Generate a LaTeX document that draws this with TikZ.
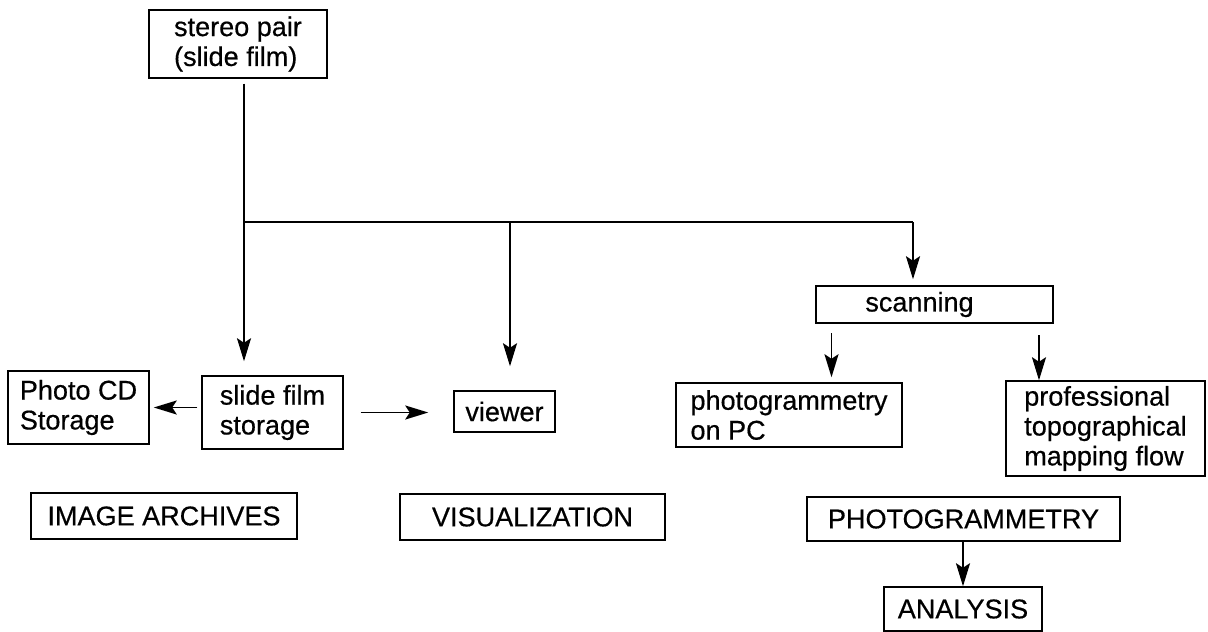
\documentclass[tikz,border=0pt]{standalone}
\usepackage{fontspec}
\setmainfont{Liberation Sans}[FakeBold=0.5]
\usepackage{tikz}
\usetikzlibrary{arrows.meta,positioning}

\begin{document}
\begin{tikzpicture}[
    x=0.02cm, y=-0.02cm,
    font=\fontsize{15.4}{17}\selectfont,
    box/.style={draw, line width=0.85pt, align=left, inner sep=0pt},
    arrow/.style={-{Stealth[length=4.6mm, width=2.8mm, inset=0.9mm]}, line width=1.1pt},
    link/.style={line width=1.1pt}
  ]
    \useasboundingbox (0,0) rectangle (1208,632);
    \node[box, minimum width=3.56cm, minimum height=1.36cm] (pair) at (238,44) {stereo pair\\(slide film)};
    \node[box, minimum width=2.82cm, minimum height=1.46cm] (slide) at (272.5,412.5) {slide film\\storage};
    \node[box, minimum width=2.82cm, minimum height=1.46cm] (cd) at (78.5,407.5) {Photo CD\\Storage};
    \node[box, minimum width=2.02cm, minimum height=0.82cm] (viewer) at (504.5,411.5) {viewer};
    \node[box, minimum width=4.74cm, minimum height=0.74cm] (scan) at (934.5,304.5) {scanning\hspace{0.6cm}};
    \node[box, minimum width=4.52cm, minimum height=1.28cm] (pc) at (789,415) {photogrammetry\\on PC};
    \node[box, minimum width=3.98cm, minimum height=1.9cm] (prof) at (1105.5,428.5) {professional\\topographical\\mapping flow};
    \node[box, minimum width=5.32cm, minimum height=0.92cm] (arch) at (164,516) {IMAGE ARCHIVES};
    \node[box, minimum width=5.3cm, minimum height=0.92cm] (vis) at (532.5,517) {VISUALIZATION};
    \node[box, minimum width=6.26cm, minimum height=0.88cm] (phot) at (963.5,519) {PHOTOGRAMMETRY};
    \node[box, minimum width=3.16cm, minimum height=0.88cm] (ana) at (963,609) {ANALYSIS};

    % branch points
    \coordinate (split) at (244,222);
    \coordinate (vbr) at (510,222);
    \coordinate (sbr) at (913,222);
    \coordinate (pcx) at (831.5,333);
    \coordinate (prx) at (1039,335);

    \draw[arrow, shorten <=1mm, shorten >=2.8mm] (split |- pair.south) -- (split |- slide.north);
    \draw[link] (split) -- (sbr);
    \draw[arrow, shorten >=4.8mm] (vbr) -- (vbr |- viewer.north);
    \draw[arrow, shorten >=1.2mm] (sbr) -- (sbr |- scan.north);
    \draw[arrow, shorten >=1mm] (pcx) -- (pcx |- pc.north);
    \draw[arrow] (prx) -- (prx |- prof.north);
    \draw[arrow, shorten <=0.8mm, shorten >=0.8mm] (slide.west |- cd.east) -- (cd.east);
    \draw[arrow, shorten <=3.4mm, shorten >=5mm] (slide.east) -- (viewer.west |- slide.east);
    \draw[arrow] (phot.south -| ana.north) -- (ana.north);
  \end{tikzpicture}
\end{document}
